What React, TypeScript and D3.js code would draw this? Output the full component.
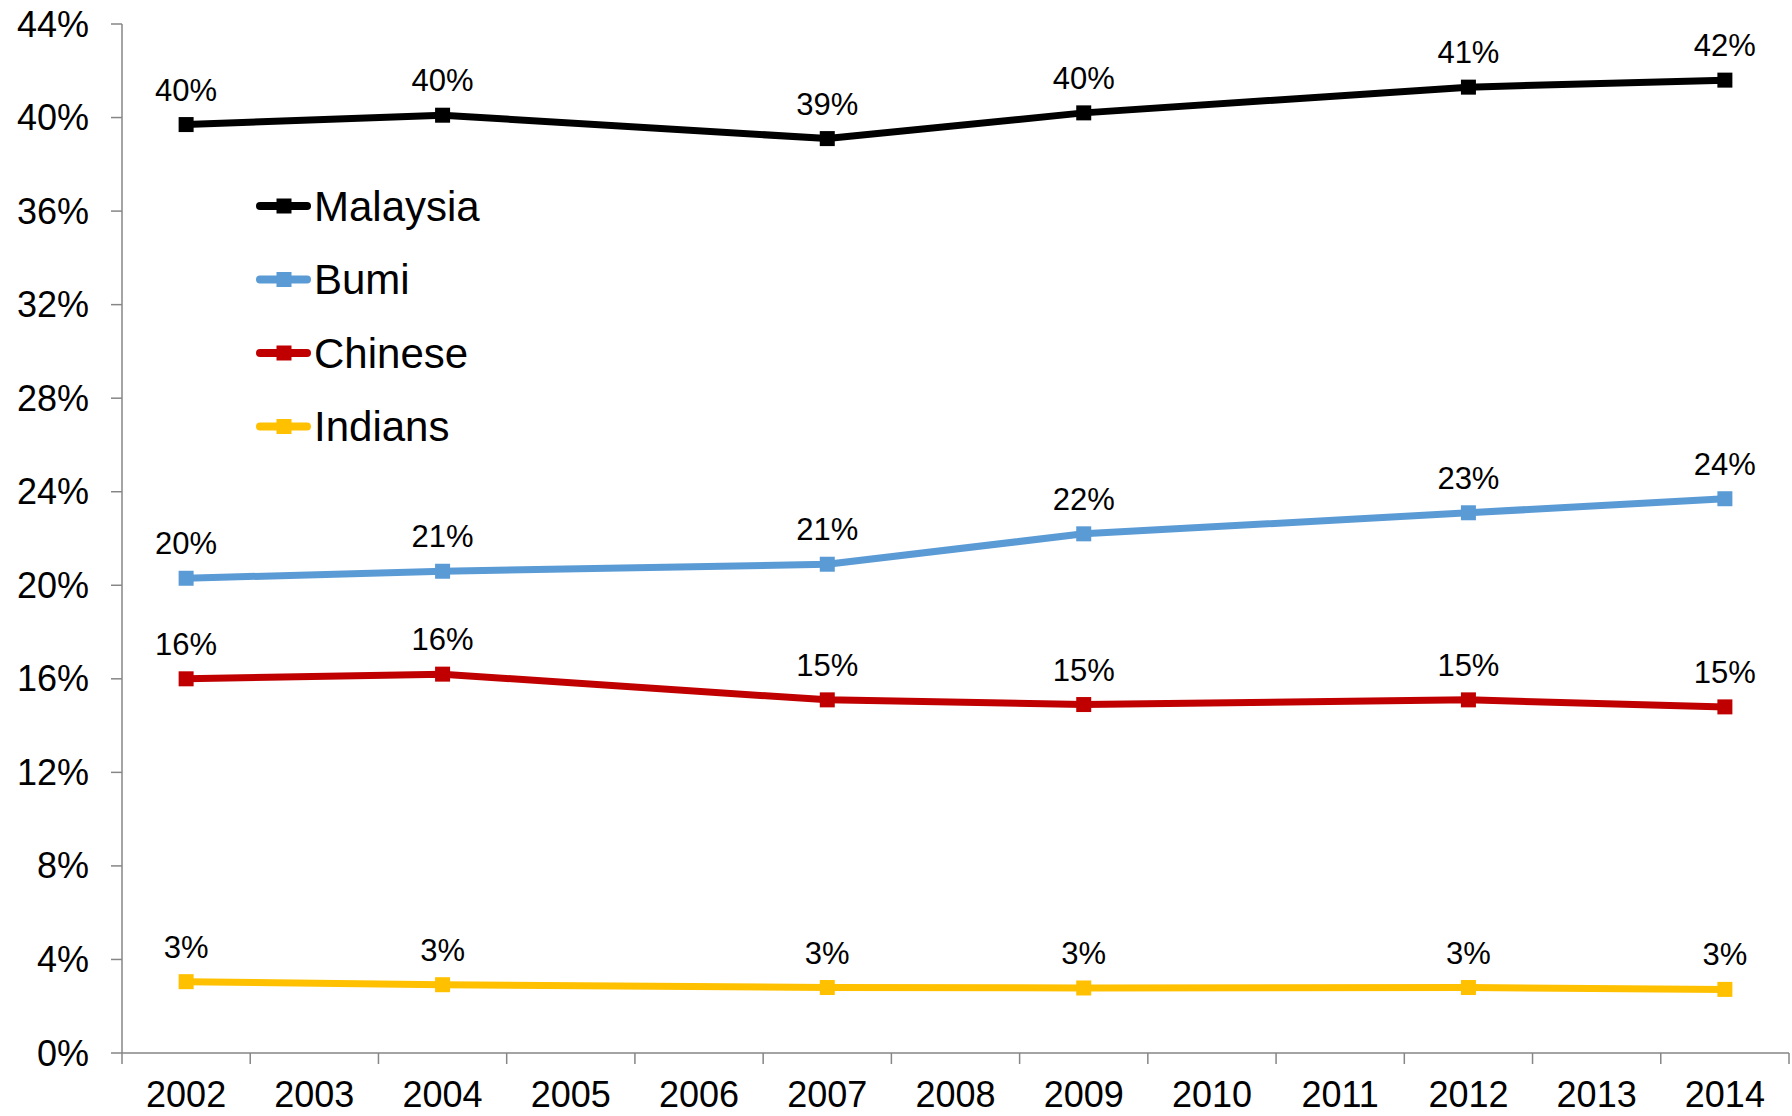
import React from "react";
import * as d3 from "d3";

const years = ["2002","2003","2004","2005","2006","2007","2008","2009","2010","2011","2012","2013","2014"];
const dataYears = ["2002","2004","2007","2009","2012","2014"];
const malaysia = [0.397, 0.401, 0.391, 0.402, 0.413, 0.416];
const bumi = [0.203, 0.206, 0.209, 0.222, 0.231, 0.237];
const chinese = [0.160, 0.162, 0.151, 0.149, 0.151, 0.148];
const indians = [0.0305, 0.0292, 0.028, 0.0278, 0.028, 0.0272];
const seriesNames = ["Malaysia", "Bumi", "Chinese", "Indians"];
const seriesColors = ["#000000", "#5B9BD5", "#C00000", "#FFC000"];
const yTicks = [0, 0.04, 0.08, 0.12, 0.16, 0.2, 0.24, 0.28, 0.32, 0.36, 0.4, 0.44];

const W = 1792, H = 1116;
const FONT = "'Liberation Sans', Arial, sans-serif";

export default function App() {
  const x = d3.scaleBand<string>().domain(years).range([122, 1789]).padding(0);
  const y = d3.scaleLinear().domain([0, 0.44]).range([1053, 24]);
  const cx = (yr: string) => (x(yr) as number) + x.bandwidth() / 2;
  const allSeries = [malaysia, bumi, chinese, indians];
  const line = d3.line<[string, number]>().x(d => cx(d[0])).y(d => y(d[1]));
  const axisColor = "#868686";
  const fmt = d3.format(".0%");

  return (
    <svg width={W} height={H} style={{ position: "absolute", left: 0, top: 0, background: "#fff" }} fontFamily={FONT}>
      {/* y axis */}
      <line x1={122} x2={122} y1={y(0.44)} y2={y(0)} stroke={axisColor} strokeWidth={1.5} />
      {yTicks.map(t => (
        <g key={t}>
          <line x1={111} x2={122} y1={y(t)} y2={y(t)} stroke={axisColor} strokeWidth={1.5} />
          <text x={89} y={y(t)} textAnchor="end" dominantBaseline="central" fontSize={36} fill="#000">{fmt(t)}</text>
        </g>
      ))}
      {/* x axis */}
      <line x1={122} x2={1789} y1={y(0)} y2={y(0)} stroke={axisColor} strokeWidth={1.5} />
      {years.concat(["end"]).map((yr, i) => {
        const xx = 122 + i * x.bandwidth();
        return <line key={"t" + i} x1={xx} x2={xx} y1={y(0)} y2={y(0) + 11} stroke={axisColor} strokeWidth={1.5} />;
      })}
      {years.map(yr => (
        <text key={yr} x={cx(yr)} y={1107} textAnchor="middle" fontSize={36} fill="#000">{yr}</text>
      ))}
      {/* series */}
      {allSeries.map((vals, si) => {
        const pts: [string, number][] = dataYears.map((yr, i) => [yr, vals[i]]);
        return (
          <g key={seriesNames[si]}>
            <path d={line(pts) as string} fill="none" stroke={seriesColors[si]} strokeWidth={7} strokeLinejoin="round" />
            {pts.map(p => (
              <rect key={p[0]} x={cx(p[0]) - 7.5} y={y(p[1]) - 7.5} width={15} height={15} fill={seriesColors[si]} />
            ))}
            {pts.map(p => (
              <text key={"l" + p[0]} x={cx(p[0])} y={y(p[1]) - 24} textAnchor="middle" fontSize={31} fill="#000">{fmt(p[1])}</text>
            ))}
          </g>
        );
      })}
      {/* legend */}
      {seriesNames.map((name, i) => {
        const ly = 206 + i * 73.5;
        return (
          <g key={"lg" + name}>
            <line x1={260} x2={307} y1={ly} y2={ly} stroke={seriesColors[i]} strokeWidth={8} strokeLinecap="round" />
            <rect x={276.5} y={ly - 7.5} width={15} height={15} fill={seriesColors[i]} />
            <text x={314} y={ly} dominantBaseline="central" fontSize={42} fill="#000">{name}</text>
          </g>
        );
      })}
    </svg>
  );
}
